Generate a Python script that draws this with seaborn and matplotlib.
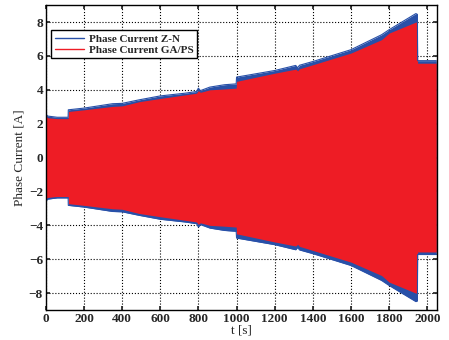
import matplotlib
matplotlib.use("Agg")
import matplotlib.pyplot as plt
import seaborn as sns
import pandas as pd

# envelope of the oscillating phase current
t = [0, 5, 10, 60, 117, 118, 200, 350, 400, 490, 600, 730, 790, 800, 810,
     860, 937, 998, 1000, 1200, 1310, 1320, 1330, 1400, 1600, 1760, 1800,
     1940, 1948, 1949, 2047]
amp_zn = [2.7, 2.5, 2.45, 2.38, 2.38, 2.82, 2.92, 3.18, 3.2, 3.41, 3.64, 3.8,
          3.9, 4.1, 3.95, 4.16, 4.3, 4.35, 4.75, 5.14, 5.44, 5.3, 5.45, 5.67,
          6.37, 7.25, 7.55, 8.5, 8.45, 5.72, 5.72]
amp_ga = [2.6, 2.4, 2.35, 2.3, 2.3, 2.72, 2.82, 3.02, 3.05, 3.3, 3.49, 3.7,
          3.8, 3.95, 3.85, 4.0, 4.05, 4.1, 4.5, 4.98, 5.22, 5.12, 5.24, 5.48,
          6.17, 6.96, 7.35, 8.0, 8.0, 5.57, 5.57]

blue = "#2850a8"
red = "#ee1c25"

df = pd.DataFrame({"t": t, "zn": amp_zn, "ga": amp_ga})

sns.set_theme(style="ticks")
plt.rcParams["font.family"] = ["Liberation Serif", "DejaVu Serif"]

fig, ax = plt.subplots(figsize=(4.49, 3.4), dpi=100)
fig.subplots_adjust(left=0.102, right=0.973, top=0.985, bottom=0.088)

ax.fill_between(df["t"], -df["zn"], df["zn"], color=blue, lw=0)
sns.lineplot(x="t", y="zn", data=df, color=blue, lw=0.8, ax=ax)
sns.lineplot(x=df["t"], y=-df["zn"], color=blue, lw=0.8, ax=ax)
ax.fill_between(df["t"], -df["ga"], df["ga"], color=red, lw=0)

ax.plot([], [], color=blue, lw=1, label="Phase Current Z-N")
ax.plot([], [], color=red, lw=1, label="Phase Current GA/PS")

ax.set_xlim(0, 2050)
ax.set_ylim(-9, 9)
ax.set_xticks(range(0, 2001, 200))
ax.set_yticks(range(-8, 9, 2))
ax.set_axisbelow(True)
ax.grid(True, color="black", linestyle=":", linewidth=0.8)
ax.tick_params(direction="in", top=True, right=True, length=3, labelsize=9.5, pad=2)
for lbl in ax.get_xticklabels() + ax.get_yticklabels():
    lbl.set_fontweight("bold")
for s in ax.spines.values():
    s.set_linewidth(1.0)
    s.set_color("black")
    s.set_zorder(5)

ax.set_xlabel("t [s]", fontsize=9.5, labelpad=0)
ax.set_ylabel("Phase Current [A]", fontsize=9.5, labelpad=2)

leg = ax.legend(loc="upper left", bbox_to_anchor=(0.0, 0.935), fancybox=False,
                edgecolor="black", framealpha=1, prop={"weight": "bold", "size": 8},
                handlelength=2.6, borderpad=0.3, labelspacing=0.15, handletextpad=0.5)
leg.get_frame().set_linewidth(1.0)

fig.savefig("out.png", dpi=100)
